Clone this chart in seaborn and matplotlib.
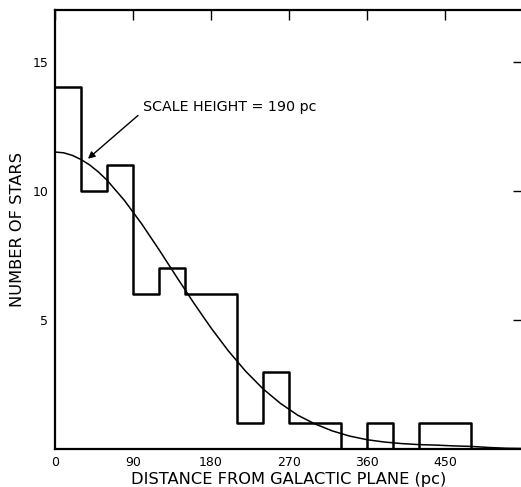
import numpy as np
import pandas as pd
import matplotlib
matplotlib.use("Agg")
import matplotlib.pyplot as plt
import seaborn as sns

# Star counts in 30 pc bins of distance from the galactic plane
bin_edges = [0, 30, 60, 90, 120, 150, 180, 210, 240, 270, 300, 330, 360,
             390, 420, 450, 480, 510, 540]
star_counts = [14, 10, 11, 6, 7, 6, 6, 1, 3, 1, 1, 0, 1, 0, 1, 1, 0, 0]

# Fitted density curve (scale height 190 pc)
curve_z = [0, 10, 20, 30, 40, 50, 60, 80, 100, 120, 140, 160, 180, 200,
           220, 240, 260, 280, 300, 320, 340, 360, 380, 400, 420, 440, 460,
           480, 500, 520, 540]
curve_n = [11.5, 11.47, 11.37, 11.21, 11.0, 10.73, 10.41, 9.63, 8.72, 7.72,
           6.68, 5.66, 4.69, 3.8, 3.01, 2.33, 1.77, 1.31, 0.97, 0.7, 0.5,
           0.36, 0.27, 0.21, 0.17, 0.15, 0.12, 0.1, 0.06, 0.03, 0.02]

x_ticks = [0, 90, 180, 270, 360, 450]
y_ticks = [5, 10, 15]

sns.set_style("white")
plt.rcParams["font.family"] = ["DejaVu Sans"]
plt.rcParams["text.color"] = "black"
plt.rcParams["axes.labelcolor"] = "black"

centers = [(a + b) / 2 for a, b in zip(bin_edges[:-1], bin_edges[1:])]
df = pd.DataFrame({"z": centers, "n": star_counts})

fig = plt.figure(figsize=(5.21, 4.87), dpi=100)
ax = fig.add_axes([55 / 521, 38 / 487, 468 / 521, 439 / 487])

sns.histplot(data=df, x="z", weights="n", bins=bin_edges, element="step",
             fill=False, color="black", linewidth=1.8, ax=ax)
sns.lineplot(x=curve_z, y=curve_n, color="black", linewidth=1.1, ax=ax)

ax.set_xlim(0, 540)
ax.set_ylim(0, 17)
ax.set_xticks(x_ticks)
ax.set_yticks(y_ticks)
ax.set_xticklabels([str(t) for t in x_ticks], fontsize=9)
ax.set_yticklabels([str(t) for t in y_ticks], fontsize=9)
ax.tick_params(direction="in", length=7, width=1.0, top=True, right=True,
               colors="black", labelcolor="black", pad=5)
for s in ax.spines.values():
    s.set_linewidth(1.6)
    s.set_color("black")

ax.set_xlabel("DISTANCE FROM GALACTIC PLANE (pc)", fontsize=11.7, labelpad=2)
ax.set_ylabel("NUMBER OF STARS", fontsize=11.7, labelpad=5)

ax.annotate("SCALE HEIGHT = 190 pc", xy=(38, 11.24), xytext=(102, 13.26),
            fontsize=10.3, va="center", ha="left",
            arrowprops=dict(arrowstyle="-|>", color="black", lw=1.0,
                            mutation_scale=10, shrinkA=2, shrinkB=0,
                            relpos=(0.0, 0.2)))

fig.savefig("out.png", dpi=100)
